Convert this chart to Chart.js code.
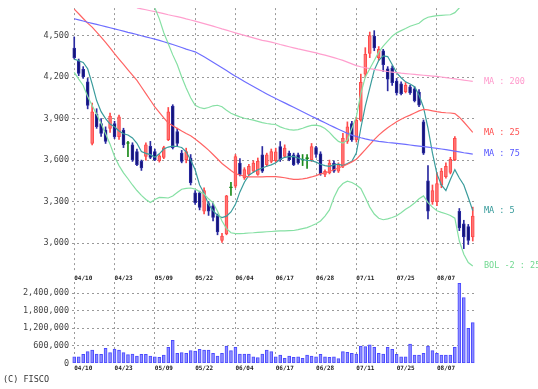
<!DOCTYPE html>
<html>
<head>
<meta charset="utf-8">
<script src="https://cdn.jsdelivr.net/npm/chart.js@4/dist/chart.umd.min.js"></script>
<style>
  body{margin:0;background:#fff;}
  #wrap{position:relative;width:538px;height:389px;background:#fff;overflow:hidden;}
  canvas{position:absolute;left:0;}
  #copy{position:absolute;left:3px;top:374px;font:8.5px 'DejaVu Sans Mono',monospace;color:#333;}
</style>
</head>
<body>
<div id="wrap">
  <canvas id="priceChart" width="538" height="282" style="top:0"></canvas>
  <canvas id="volChart" width="538" height="110" style="top:270px"></canvas>
  <div id="copy">(C) FISCO</div>
</div>
<script>
'use strict';

// trading days, 2013
const dates = [
  '04/10','04/11','04/12','04/15','04/16','04/17','04/18','04/19','04/22','04/23','04/24','04/25','04/26','04/30',
  '05/01','05/02','05/07','05/08','05/09','05/10','05/13','05/14','05/15','05/16','05/17','05/20','05/21','05/22','05/23','05/24','05/27','05/28','05/29','05/30','05/31',
  '06/03','06/04','06/05','06/06','06/07','06/10','06/11','06/12','06/13','06/14','06/17','06/18','06/19','06/20','06/21','06/24','06/25','06/26','06/27','06/28',
  '07/01','07/02','07/03','07/04','07/05','07/08','07/09','07/10','07/11','07/12','07/16','07/17','07/18','07/19','07/22','07/23','07/24','07/25','07/26','07/29','07/30','07/31',
  '08/01','08/02','08/05','08/06','08/07','08/08','08/09','08/12','08/13','08/14','08/15','08/16','08/19'
];

const open  = [4410,4315,4255,4165,3721,3931,3864,3817,3829,3864,3769,3817,3720,3710,3662,3591,3626,3700,3662,3595,3620,3748,3990,3805,3650,3603,3614,3364,3364,3230,
               3285,3270,3198,3020,3067,3400,3412,3579,3471,3496,3519,3496,3638,3567,3591,3595,3698,3626,3650,3638,3638,3600,3610,3603,3690,3645,3496,3507,3579,3519,
               3555,3734,3864,3746,3888,4221,4370,4495,4340,4390,4260,4265,4170,4150,4095,4130,4115,4091,3876,3450,3300,3300,3420,3480,3510,3603,3230,3140,3120,3045];
const high  = [4490,4330,4275,4190,4012,3971,3900,3840,3940,3880,3925,3830,3735,3725,3680,3600,3725,3735,3680,3640,3700,3980,4000,3830,3670,3686,3640,3380,3375,3400,
               3300,3290,3210,3070,3345,3440,3640,3610,3545,3570,3595,3615,3698,3650,3680,3686,3734,3710,3665,3650,3650,3640,3640,3720,3700,3660,3530,3600,3595,3580,
               3793,3876,3880,3910,4221,4412,4525,4535,4420,4400,4275,4280,4190,4165,4160,4140,4130,4110,3890,3560,3420,3510,3540,3580,3620,3770,3250,3165,3135,3260];
const low   = [4330,4210,4190,3970,3710,3829,3770,3720,3800,3755,3750,3690,3625,3590,3560,3525,3600,3610,3595,3585,3610,3740,3680,3700,3580,3580,3420,3280,3240,3210,
               3200,3160,3060,3005,3060,3345,3400,3485,3460,3490,3510,3490,3510,3555,3580,3585,3590,3620,3595,3560,3570,3560,3540,3590,3620,3490,3480,3500,3510,3510,
               3545,3720,3735,3730,3880,4198,4340,4390,4320,4240,4100,4140,4070,4070,4085,4075,4020,3985,3640,3175,3280,3270,3400,3470,3500,3595,3090,2960,2990,3015];
const close = [4340,4226,4200,3995,3948,3841,3793,3734,3917,3769,3912,3710,3720,3603,3567,3543,3710,3620,3603,3630,3690,3948,3690,3720,3591,3662,3436,3293,3257,3380,
               3230,3185,3080,3050,3341,3400,3626,3496,3531,3555,3579,3591,3519,3638,3662,3660,3603,3686,3603,3567,3579,3600,3610,3698,3640,3500,3519,3579,3519,3567,
               3757,3841,3746,3888,4162,4364,4500,4410,4400,4290,4185,4160,4085,4080,4140,4085,4030,3996,3650,3230,3380,3430,3520,3555,3605,3757,3110,3045,3020,3195];

const volume = [226000,226000,309000,400000,457000,320000,309000,514000,366000,490000,457000,366000,297000,320000,251000,309000,309000,251000,226000,206000,
                286000,549000,789000,343000,366000,343000,434000,423000,480000,457000,457000,343000,251000,343000,594000,434000,549000,320000,320000,320000,
                226000,194000,320000,457000,400000,226000,286000,171000,251000,206000,226000,171000,286000,251000,226000,309000,226000,206000,226000,160000,
                400000,377000,343000,320000,594000,571000,629000,549000,343000,320000,549000,480000,309000,226000,226000,663000,286000,286000,343000,594000,
                434000,343000,286000,286000,286000,549000,2743000,2250000,1200000,1393000];

const ma5   = [4329,4318,4305,4260,4150,4030,3950,3900,3860,3841,3810,3790,3781,3760,3721,3662,3648,3639,3620,3645,3680,3694,3700,3698,3691,3660,3600,3530,3420,3360,
               3280,3235,3200,3184,3195,3225,3280,3370,3440,3490,3512,3530,3543,3555,3565,3580,3605,3620,3625,3626,3615,3603,3598,3596,3585,3570,3560,3555,3565,3570,
               3560,3575,3591,3650,3830,3990,4120,4250,4320,4353,4348,4290,4230,4195,4165,4150,4130,4070,3980,3830,3650,3500,3420,3380,3460,3531,3470,3420,3330,3235];
const ma25  = [4691,4657,4623,4589,4561,4525,4488,4450,4410,4369,4330,4291,4252,4214,4176,4128,4080,4032,3985,3945,3905,3868,3848,3829,3810,3792,3776,3752,3727,3700,
               3672,3640,3608,3575,3550,3525,3502,3492,3484,3479,3478,3478,3479,3480,3480,3480,3477,3472,3466,3461,3460,3464,3470,3478,3488,3500,3507,3517,3530,3543,
               3556,3570,3587,3605,3640,3675,3712,3748,3780,3808,3833,3856,3877,3895,3911,3925,3940,3955,3966,3962,3956,3950,3945,3942,3940,3936,3910,3875,3838,3800];
const ma75  = [4621,4613,4605,4596,4588,4580,4572,4564,4556,4548,4540,4532,4523,4515,4507,4498,4490,4482,4474,4465,4455,4445,4435,4424,4413,4402,4392,4382,4365,4346,
               4327,4307,4287,4267,4247,4226,4206,4187,4168,4149,4131,4113,4095,4078,4061,4045,4029,4013,3997,3981,3965,3949,3933,3917,3901,3885,3869,3853,3838,3823,
               3808,3793,3780,3770,3761,3753,3746,3740,3735,3731,3727,3724,3721,3717,3713,3709,3705,3701,3697,3693,3689,3685,3680,3675,3670,3664,3659,3653,3648,3643];
const ma200 = [null,null,null,null,null,null,null,null,null,null,null,null,null,null,4700,4693,4686,4679,4672,4665,4658,4650,4643,4636,4629,4620,4612,4604,4595,4586,
               4577,4568,4558,4548,4539,4529,4519,4510,4501,4492,4483,4474,4465,4459,4452,4444,4435,4427,4419,4411,4403,4396,4389,4382,4374,4366,4358,4349,4340,4330,
               4320,4308,4295,4282,4274,4267,4261,4255,4250,4245,4240,4236,4232,4228,4225,4222,4219,4216,4213,4210,4207,4204,4200,4196,4191,4187,4182,4177,4173,4169];
const bolUp = [null,null,null,null,null,null,null,null,null,null,null,null,null,null,null,null,null,4790,4700,4620,4520,4440,4360,4290,4200,4120,4050,3996,3980,3972,
               3980,3992,3996,3985,3960,3938,3925,3912,3902,3895,3889,3880,3870,3864,3860,3857,3840,3828,3820,3817,3820,3830,3842,3850,3853,3845,3828,3800,3765,3735,
               3722,3745,3830,3912,4080,4200,4260,4320,4380,4424,4460,4495,4519,4535,4550,4567,4578,4588,4615,4632,4638,4643,4646,4648,4650,4665,4700,4760,4810,4860];
const bolDn = [4234,4185,4139,4060,3995,3930,3865,3790,3715,3626,3560,3507,3465,3420,3380,3345,3315,3293,3315,3330,3328,3326,3340,3365,3389,3395,3398,3390,3372,3355,
               3320,3291,3230,3160,3105,3075,3068,3068,3070,3073,3075,3078,3080,3082,3084,3086,3088,3089,3090,3091,3097,3105,3112,3125,3140,3160,3195,3240,3330,3395,
               3430,3448,3438,3420,3395,3330,3260,3210,3180,3169,3175,3185,3198,3220,3245,3265,3290,3320,3341,3293,3260,3234,3222,3212,3200,3180,3015,2920,2860,2835];

const priceTicks = [3000,3300,3600,3900,4200,4500];
const volTicks = [0,600000,1200000,1800000,2400000];

const UP='#ff7474', UPB='#ff4a4a', DN='#141478', DNB='#2a2aa0', EQ='#1a8a1a';
const candleCol = close.map((c,i)=>c>open[i]?UP:c<open[i]?DN:EQ);
const candleBdr = close.map((c,i)=>c>open[i]?UPB:c<open[i]?DNB:EQ);
const MONO = "'DejaVu Sans Mono', monospace";
const GRID = '#9a9a9a';

Chart.defaults.animation = false;
Chart.defaults.plugins.legend.display = false;
Chart.defaults.plugins.tooltip.enabled = false;

function xScale(h){
  return {
    offset:true,
    afterFit(s){s.height=h;},
    grid:{offset:false,drawTicks:false,color:GRID,lineWidth:1},
    border:{display:false,dash:[2,3]},
    ticks:{autoSkip:false,maxRotation:0,align:'start',padding:2,color:'#222',font:{family:MONO,size:6,weight:'bold'},
      callback:(v,i)=>i%9===0?dates[i]:null}
  };
}

// labels at the right end of each line
const sideLabels = {
  id:'sideLabels',
  afterDatasetsDraw(chart){
    const {ctx,scales:{y}} = chart;
    ctx.save();
    ctx.font = '8.5px '+MONO;
    ctx.textBaseline = 'middle';
    chart.data.datasets.forEach(ds=>{
      if(!ds.tag) return;
      const last = ds.data[ds.data.length-1];
      ctx.fillStyle = ds.tagColor;
      ctx.fillText(ds.tag, 484, y.getPixelForValue(last));
    });
    ctx.restore();
  }
};

function line(label,data,color,tag,tagColor){
  return {type:'line',label,data,borderColor:color,borderWidth:1.2,pointRadius:0,tension:0,order:0,tag,tagColor};
}

new Chart(document.getElementById('priceChart'),{
  type:'bar',
  data:{labels:dates,datasets:[
    line('BOL +2',bolUp,'#86e0a4'),
    line('BOL -2',bolDn,'#86e0a4','BOL -2 : 25','#70d890'),
    line('MA 200',ma200,'#ff9fce','MA : 200','#ff99cc'),
    line('MA 75',ma75,'#6e6eff','MA : 75','#5555ff'),
    line('MA 25',ma25,'#ff6464','MA : 25','#ff5050'),
    line('MA 5',ma5,'#3a9c9c','MA : 5','#339999'),
    {label:'wick',data:low.map((l,i)=>[l,high[i]]),backgroundColor:candleBdr,barThickness:1,grouped:false,order:2},
    {label:'body',data:open.map((o,i)=>[o,close[i]]),backgroundColor:candleCol,borderColor:candleBdr,borderWidth:1,borderSkipped:false,
      barThickness:3,minBarLength:1,grouped:false,order:1}
  ]},
  options:{
    responsive:false,
    layout:{padding:{left:0,right:63,top:5,bottom:0}},
    scales:{
      x:xScale(9),
      y:{min:2784,max:4698,
        afterFit(s){s.width=72;},
        afterBuildTicks(s){s.ticks=priceTicks.map(v=>({value:v}));},
        grid:{drawTicks:false,color:GRID},
        border:{display:false,dash:[2,3]},
        ticks:{padding:3,color:'#444',font:{family:MONO,size:8.5},callback:v=>v.toLocaleString('en-US')}}
    }
  },
  plugins:[sideLabels]
});

new Chart(document.getElementById('volChart'),{
  type:'bar',
  data:{labels:dates,datasets:[
    {label:'Volume',data:volume,backgroundColor:'#8c8cff',borderColor:'#4a4aff',borderWidth:1,borderSkipped:false,barThickness:3}
  ]},
  options:{
    responsive:false,
    layout:{padding:{left:0,right:63,top:12,bottom:0}},
    scales:{
      x:xScale(16.7),
      y:{min:0,max:2787000,
        afterFit(s){s.width=72;},
        afterBuildTicks(s){s.ticks=volTicks.map(v=>({value:v}));},
        grid:{drawTicks:false,color:c=>c.tick.value===0?'rgba(0,0,0,0)':GRID},
        border:{display:false,dash:[2,3]},
        ticks:{padding:3,color:'#444',font:{family:MONO,size:8.5},callback:v=>v.toLocaleString('en-US')}}
    }
  }
});
</script>
</body>
</html>
